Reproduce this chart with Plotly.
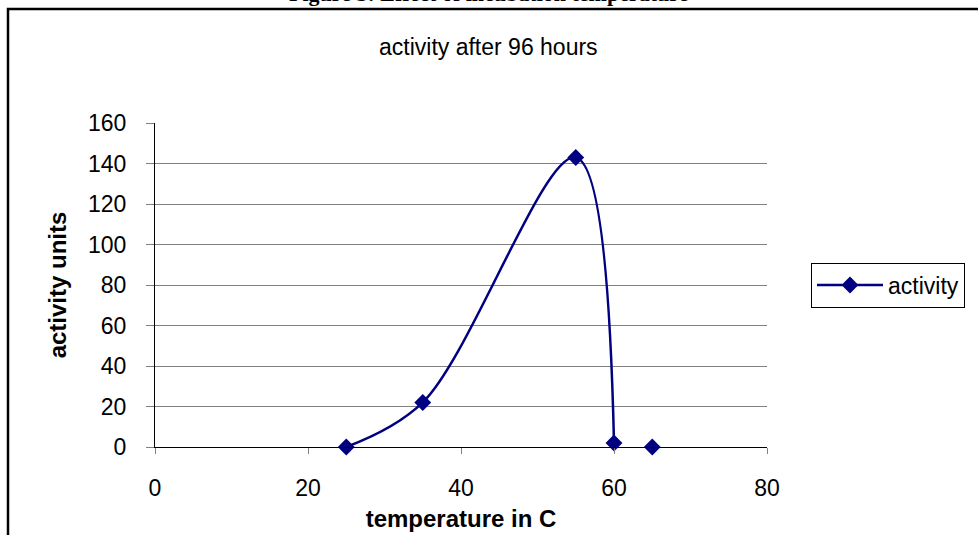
import plotly.graph_objects as go

temperature = [25, 35, 55, 60, 65]
activity = [0, 22, 143, 2, 0]
connected = [True, True, True, True, False]  # last point stands alone in the original

y_ticks = [0, 20, 40, 60, 80, 100, 120, 140, 160]
x_ticks = [0, 20, 40, 60, 80]

W, H = 978, 535
L, R, T, B = 155, 978 - 767, 123, 535 - 447
pw, ph = W - L - R, H - T - B

def px_x(p):
    return (p - L) / pw

def px_y(p):
    return (H - B - p) / ph

# build line with gap for unconnected point
xs, ys = [], []
for i, (t, a) in enumerate(zip(temperature, activity)):
    if i > 0 and not connected[i]:
        xs.append(None); ys.append(None)
    xs.append(t); ys.append(a)

NAVY = "#000080"
FONT = "Liberation Sans, Arial, sans-serif"

fig = go.Figure()
fig.add_trace(go.Scatter(
    x=xs, y=ys, mode="lines+markers", name="activity",
    line=dict(color=NAVY, width=2.5, shape="spline", smoothing=1.0),
    marker=dict(symbol="diamond", size=13, color=NAVY),
    connectgaps=False, cliponaxis=False,
))

fig.update_layout(
    width=W, height=H,
    margin=dict(l=L, r=R, t=T, b=B, autoexpand=False),
    paper_bgcolor="white", plot_bgcolor="white",
    font=dict(family=FONT, size=23, color="black"),
    showlegend=True,
    legend=dict(x=px_x(811), y=0.5, xanchor="left", yanchor="middle",
                bordercolor="black", borderwidth=1, font=dict(size=23),
                bgcolor="white", itemwidth=66),
    xaxis=dict(range=[0, 80], tickvals=x_ticks, showgrid=False,
               showline=True, linecolor="black", linewidth=1,
               ticks="outside", ticklen=6, tickcolor="#808080",
               ticklabelstandoff=14, automargin=False,
               zeroline=False, fixedrange=True,
               title=dict(text="<b>temperature in C</b>", standoff=10,
                          font=dict(size=24))),
    yaxis=dict(range=[0, 160], tickvals=y_ticks, showgrid=True,
               gridcolor="#808080", gridwidth=1,
               showline=True, linecolor="black", linewidth=1,
               ticks="outside", ticklen=8, tickcolor="#808080",
               ticklabelstandoff=15, automargin=False,
               zeroline=False, fixedrange=True,
               title=dict(text="<b>activity units</b>", standoff=14,
                          font=dict(size=24))),
    annotations=[
        dict(text="activity after 96 hours", xref="paper", yref="paper",
             x=px_x(489), y=px_y(47), xanchor="center", yanchor="middle",
             showarrow=False, font=dict(size=23, family=FONT)),
        dict(text="<b>Figure 3: Effect of incubation temperature</b>",
             xref="paper", yref="paper", x=px_x(489), y=px_y(8),
             xanchor="center", yanchor="bottom", showarrow=False,
             font=dict(size=22, family="Liberation Serif, DejaVu Serif, serif")),
    ],
    shapes=[
        dict(type="rect", xref="paper", yref="paper",
             x0=px_x(8), x1=px_x(995), y0=px_y(550), y1=px_y(9),
             line=dict(color="black", width=2.5), layer="below"),
    ],
)

fig.write_html("out.html")
